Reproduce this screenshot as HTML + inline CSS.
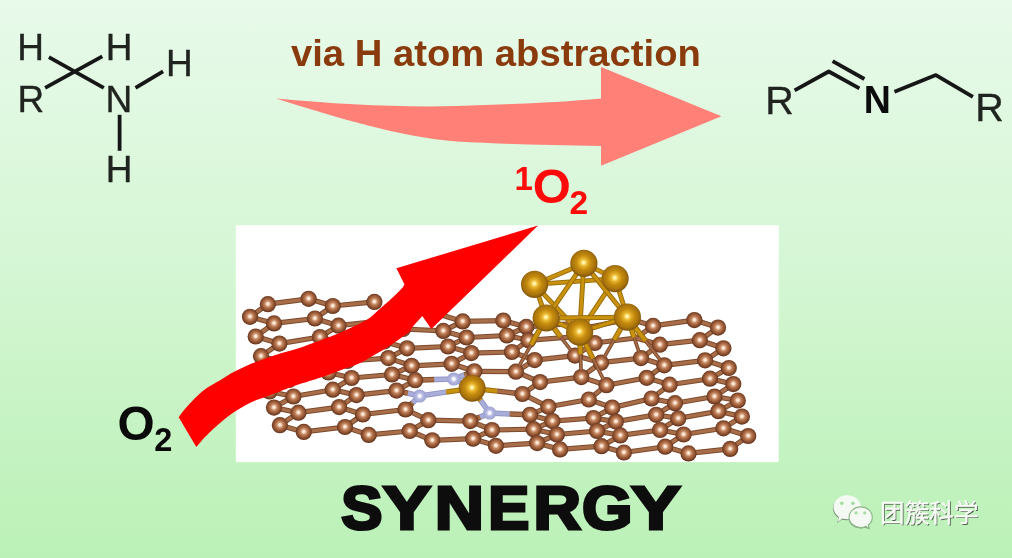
<!DOCTYPE html>
<html lang="en">
<head>
<meta charset="utf-8">
<title>Synergy graphical abstract</title>
<style>
html,body{margin:0;padding:0;}
body{width:1012px;height:558px;overflow:hidden;background:#bcf2b8;font-family:"Liberation Sans",sans-serif;}
#stage{position:relative;width:1012px;height:558px;overflow:hidden;background:linear-gradient(to bottom,#e8faea 0%,#d5f6d4 48%,#c5f3c2 78%,#bbf1b7 100%);}
#art{position:absolute;left:0;top:0;width:1012px;height:558px;}
.lbl{position:absolute;white-space:nowrap;line-height:1;margin:0;filter:blur(0.4px);}
.chem{font-size:37px;color:#20241f;-webkit-text-stroke:0.35px #20241f;}
.c2{font-size:39.5px;}
.hid{color:transparent;}
.rd{color:#ff0a0a;font-weight:bold;}
.bk{color:#0a0a0a;font-weight:bold;}
</style>
</head>
<body>
<div id="stage">
<svg id="art" width="1012" height="558" viewBox="0 0 1012 558">
<defs>
<radialGradient id="gC" cx="0.5" cy="0.48" r="0.52">
<stop offset="0" stop-color="#fffaf2"/><stop offset="0.16" stop-color="#f6dcc6"/><stop offset="0.36" stop-color="#c78a65"/><stop offset="0.6" stop-color="#a3633d"/><stop offset="0.82" stop-color="#82482b"/><stop offset="0.94" stop-color="#66361e"/><stop offset="1" stop-color="#5c301b"/>
</radialGradient>
<radialGradient id="gAu" cx="0.49" cy="0.47" r="0.54">
<stop offset="0" stop-color="#fffde6"/><stop offset="0.1" stop-color="#ffea8c"/><stop offset="0.25" stop-color="#e8b52e"/><stop offset="0.5" stop-color="#c48a0e"/><stop offset="0.78" stop-color="#a8730c"/><stop offset="0.92" stop-color="#8a5b0c"/><stop offset="1" stop-color="#77500f"/>
</radialGradient>
<radialGradient id="gN" cx="0.5" cy="0.5" r="0.52">
<stop offset="0" stop-color="#ffffff"/><stop offset="0.22" stop-color="#f3f3fb"/><stop offset="0.45" stop-color="#b6b9e0"/><stop offset="0.8" stop-color="#a5a9d6"/><stop offset="1" stop-color="#989cce"/>
</radialGradient>
<filter id="soft" x="-5%" y="-5%" width="110%" height="110%"><feGaussianBlur stdDeviation="0.45"/></filter>
<filter id="soft3" x="-5%" y="-5%" width="110%" height="110%"><feGaussianBlur stdDeviation="0.7"/></filter>
<filter id="soft2" x="-5%" y="-5%" width="110%" height="110%"><feGaussianBlur stdDeviation="0.6"/></filter>
</defs>
<rect x="235.8" y="225.3" width="542.9" height="236.8" fill="#ffffff"/>
<g id="lattice" filter="url(#soft3)">
<g stroke-linecap="butt">
<path d="M267.9,304.2 L250.0,316.8" stroke="#7d4a2c" stroke-width="5.2"/><path d="M267.9,304.2 L250.0,316.8" stroke="#a86e49" stroke-width="3.2"/>
<path d="M267.9,304.2 L308.6,298.8" stroke="#7d4a2c" stroke-width="5.2"/><path d="M267.9,304.2 L308.6,298.8" stroke="#a86e49" stroke-width="3.2"/>
<path d="M250.0,316.8 L274.0,323.4" stroke="#7d4a2c" stroke-width="5.2"/><path d="M250.0,316.8 L274.0,323.4" stroke="#a86e49" stroke-width="3.2"/>
<path d="M274.0,323.4 L255.7,336.5" stroke="#7d4a2c" stroke-width="5.2"/><path d="M274.0,323.4 L255.7,336.5" stroke="#a86e49" stroke-width="3.2"/>
<path d="M274.0,323.4 L314.9,318.5" stroke="#7d4a2c" stroke-width="5.2"/><path d="M274.0,323.4 L314.9,318.5" stroke="#a86e49" stroke-width="3.2"/>
<path d="M255.7,336.5 L279.4,343.6" stroke="#7d4a2c" stroke-width="5.2"/><path d="M255.7,336.5 L279.4,343.6" stroke="#a86e49" stroke-width="3.2"/>
<path d="M279.4,343.6 L261.0,356.2" stroke="#7d4a2c" stroke-width="5.2"/><path d="M279.4,343.6 L261.0,356.2" stroke="#a86e49" stroke-width="3.2"/>
<path d="M279.4,343.6 L319.9,337.0" stroke="#7d4a2c" stroke-width="5.2"/><path d="M279.4,343.6 L319.9,337.0" stroke="#a86e49" stroke-width="3.2"/>
<path d="M261.0,356.2 L285.0,362.5" stroke="#7d4a2c" stroke-width="5.2"/><path d="M261.0,356.2 L285.0,362.5" stroke="#a86e49" stroke-width="3.2"/>
<path d="M285.0,362.5 L265.5,375.0" stroke="#7d4a2c" stroke-width="5.2"/><path d="M285.0,362.5 L265.5,375.0" stroke="#a86e49" stroke-width="3.2"/>
<path d="M285.0,362.5 L324.0,355.0" stroke="#7d4a2c" stroke-width="5.2"/><path d="M285.0,362.5 L324.0,355.0" stroke="#a86e49" stroke-width="3.2"/>
<path d="M265.5,375.0 L289.0,380.0" stroke="#7d4a2c" stroke-width="5.2"/><path d="M265.5,375.0 L289.0,380.0" stroke="#a86e49" stroke-width="3.2"/>
<path d="M289.0,380.0 L269.5,391.5" stroke="#7d4a2c" stroke-width="5.2"/><path d="M289.0,380.0 L269.5,391.5" stroke="#a86e49" stroke-width="3.2"/>
<path d="M289.0,380.0 L328.5,372.5" stroke="#7d4a2c" stroke-width="5.2"/><path d="M289.0,380.0 L328.5,372.5" stroke="#a86e49" stroke-width="3.2"/>
<path d="M269.5,391.5 L293.4,396.5" stroke="#7d4a2c" stroke-width="5.2"/><path d="M269.5,391.5 L293.4,396.5" stroke="#a86e49" stroke-width="3.2"/>
<path d="M293.4,396.5 L274.0,407.6" stroke="#7d4a2c" stroke-width="5.2"/><path d="M293.4,396.5 L274.0,407.6" stroke="#a86e49" stroke-width="3.2"/>
<path d="M293.4,396.5 L332.8,389.7" stroke="#7d4a2c" stroke-width="5.2"/><path d="M293.4,396.5 L332.8,389.7" stroke="#a86e49" stroke-width="3.2"/>
<path d="M274.0,407.6 L298.4,412.7" stroke="#7d4a2c" stroke-width="5.2"/><path d="M274.0,407.6 L298.4,412.7" stroke="#a86e49" stroke-width="3.2"/>
<path d="M298.4,412.7 L279.9,425.2" stroke="#7d4a2c" stroke-width="5.2"/><path d="M298.4,412.7 L279.9,425.2" stroke="#a86e49" stroke-width="3.2"/>
<path d="M298.4,412.7 L339.1,407.1" stroke="#7d4a2c" stroke-width="5.2"/><path d="M298.4,412.7 L339.1,407.1" stroke="#a86e49" stroke-width="3.2"/>
<path d="M279.9,425.2 L303.8,431.9" stroke="#7d4a2c" stroke-width="5.2"/><path d="M279.9,425.2 L303.8,431.9" stroke="#a86e49" stroke-width="3.2"/>
<path d="M303.8,431.9 L345.0,427.0" stroke="#7d4a2c" stroke-width="5.2"/><path d="M303.8,431.9 L345.0,427.0" stroke="#a86e49" stroke-width="3.2"/>
<path d="M308.6,298.8 L332.8,306.0" stroke="#7d4a2c" stroke-width="5.2"/><path d="M308.6,298.8 L332.8,306.0" stroke="#a86e49" stroke-width="3.2"/>
<path d="M332.8,306.0 L314.9,318.5" stroke="#7d4a2c" stroke-width="5.2"/><path d="M332.8,306.0 L314.9,318.5" stroke="#a86e49" stroke-width="3.2"/>
<path d="M332.8,306.0 L374.4,301.9" stroke="#7d4a2c" stroke-width="5.2"/><path d="M332.8,306.0 L374.4,301.9" stroke="#a86e49" stroke-width="3.2"/>
<path d="M314.9,318.5 L338.5,325.7" stroke="#7d4a2c" stroke-width="5.2"/><path d="M314.9,318.5 L338.5,325.7" stroke="#a86e49" stroke-width="3.2"/>
<path d="M338.5,325.7 L319.9,337.0" stroke="#7d4a2c" stroke-width="5.2"/><path d="M338.5,325.7 L319.9,337.0" stroke="#a86e49" stroke-width="3.2"/>
<path d="M338.5,325.7 L380.0,321.0" stroke="#7d4a2c" stroke-width="5.2"/><path d="M338.5,325.7 L380.0,321.0" stroke="#a86e49" stroke-width="3.2"/>
<path d="M319.9,337.0 L343.0,343.5" stroke="#7d4a2c" stroke-width="5.2"/><path d="M319.9,337.0 L343.0,343.5" stroke="#a86e49" stroke-width="3.2"/>
<path d="M343.0,343.5 L324.0,355.0" stroke="#7d4a2c" stroke-width="5.2"/><path d="M343.0,343.5 L324.0,355.0" stroke="#a86e49" stroke-width="3.2"/>
<path d="M343.0,343.5 L384.0,341.5" stroke="#7d4a2c" stroke-width="5.2"/><path d="M343.0,343.5 L384.0,341.5" stroke="#a86e49" stroke-width="3.2"/>
<path d="M324.0,355.0 L347.3,361.0" stroke="#7d4a2c" stroke-width="5.2"/><path d="M324.0,355.0 L347.3,361.0" stroke="#a86e49" stroke-width="3.2"/>
<path d="M347.3,361.0 L328.5,372.5" stroke="#7d4a2c" stroke-width="5.2"/><path d="M347.3,361.0 L328.5,372.5" stroke="#a86e49" stroke-width="3.2"/>
<path d="M347.3,361.0 L388.3,358.1" stroke="#7d4a2c" stroke-width="5.2"/><path d="M347.3,361.0 L388.3,358.1" stroke="#a86e49" stroke-width="3.2"/>
<path d="M328.5,372.5 L351.6,378.0" stroke="#7d4a2c" stroke-width="5.2"/><path d="M328.5,372.5 L351.6,378.0" stroke="#a86e49" stroke-width="3.2"/>
<path d="M351.6,378.0 L332.8,389.7" stroke="#7d4a2c" stroke-width="5.2"/><path d="M351.6,378.0 L332.8,389.7" stroke="#a86e49" stroke-width="3.2"/>
<path d="M351.6,378.0 L392.0,374.5" stroke="#7d4a2c" stroke-width="5.2"/><path d="M351.6,378.0 L392.0,374.5" stroke="#a86e49" stroke-width="3.2"/>
<path d="M332.8,389.7 L356.5,395.1" stroke="#7d4a2c" stroke-width="5.2"/><path d="M332.8,389.7 L356.5,395.1" stroke="#a86e49" stroke-width="3.2"/>
<path d="M356.5,395.1 L339.1,407.1" stroke="#7d4a2c" stroke-width="5.2"/><path d="M356.5,395.1 L339.1,407.1" stroke="#a86e49" stroke-width="3.2"/>
<path d="M356.5,395.1 L396.5,390.6" stroke="#7d4a2c" stroke-width="5.2"/><path d="M356.5,395.1 L396.5,390.6" stroke="#a86e49" stroke-width="3.2"/>
<path d="M339.1,407.1 L362.9,414.5" stroke="#7d4a2c" stroke-width="5.2"/><path d="M339.1,407.1 L362.9,414.5" stroke="#a86e49" stroke-width="3.2"/>
<path d="M362.9,414.5 L345.0,427.0" stroke="#7d4a2c" stroke-width="5.2"/><path d="M362.9,414.5 L345.0,427.0" stroke="#a86e49" stroke-width="3.2"/>
<path d="M362.9,414.5 L405.5,409.5" stroke="#7d4a2c" stroke-width="5.2"/><path d="M362.9,414.5 L405.5,409.5" stroke="#a86e49" stroke-width="3.2"/>
<path d="M345.0,427.0 L368.7,434.9" stroke="#7d4a2c" stroke-width="5.2"/><path d="M345.0,427.0 L368.7,434.9" stroke="#a86e49" stroke-width="3.2"/>
<path d="M368.7,434.9 L409.7,431.0" stroke="#7d4a2c" stroke-width="5.2"/><path d="M368.7,434.9 L409.7,431.0" stroke="#a86e49" stroke-width="3.2"/>
<path d="M380.0,321.0 L403.0,329.0" stroke="#7d4a2c" stroke-width="5.2"/><path d="M380.0,321.0 L403.0,329.0" stroke="#a86e49" stroke-width="3.2"/>
<path d="M403.0,329.0 L384.0,341.5" stroke="#7d4a2c" stroke-width="5.2"/><path d="M403.0,329.0 L384.0,341.5" stroke="#a86e49" stroke-width="3.2"/>
<path d="M403.0,329.0 L443.3,330.9" stroke="#7d4a2c" stroke-width="5.2"/><path d="M403.0,329.0 L443.3,330.9" stroke="#a86e49" stroke-width="3.2"/>
<path d="M384.0,341.5 L407.1,348.3" stroke="#7d4a2c" stroke-width="5.2"/><path d="M384.0,341.5 L407.1,348.3" stroke="#a86e49" stroke-width="3.2"/>
<path d="M407.1,348.3 L388.3,358.1" stroke="#7d4a2c" stroke-width="5.2"/><path d="M407.1,348.3 L388.3,358.1" stroke="#a86e49" stroke-width="3.2"/>
<path d="M407.1,348.3 L448.0,346.5" stroke="#7d4a2c" stroke-width="5.2"/><path d="M407.1,348.3 L448.0,346.5" stroke="#a86e49" stroke-width="3.2"/>
<path d="M388.3,358.1 L411.6,365.8" stroke="#7d4a2c" stroke-width="5.2"/><path d="M388.3,358.1 L411.6,365.8" stroke="#a86e49" stroke-width="3.2"/>
<path d="M411.6,365.8 L392.0,374.5" stroke="#7d4a2c" stroke-width="5.2"/><path d="M411.6,365.8 L392.0,374.5" stroke="#a86e49" stroke-width="3.2"/>
<path d="M411.6,365.8 L451.6,363.8" stroke="#7d4a2c" stroke-width="5.2"/><path d="M411.6,365.8 L451.6,363.8" stroke="#a86e49" stroke-width="3.2"/>
<path d="M392.0,374.5 L415.2,380.2" stroke="#7d4a2c" stroke-width="5.2"/><path d="M392.0,374.5 L415.2,380.2" stroke="#a86e49" stroke-width="3.2"/>
<path d="M415.2,380.2 L396.5,390.6" stroke="#7d4a2c" stroke-width="5.2"/><path d="M415.2,380.2 L396.5,390.6" stroke="#a86e49" stroke-width="3.2"/>
<path d="M415.2,380.2 L434.5,379.6" stroke="#7d4a2c" stroke-width="5.5"/><path d="M415.2,380.2 L434.5,379.6" stroke="#a86e49" stroke-width="3.5"/><path d="M434.5,379.6 L453.8,379.0" stroke="#9296c8" stroke-width="5.5"/><path d="M434.5,379.6 L453.8,379.0" stroke="#a9add8" stroke-width="3.5"/>
<path d="M396.5,390.6 L408.1,393.3" stroke="#7d4a2c" stroke-width="5.5"/><path d="M396.5,390.6 L408.1,393.3" stroke="#a86e49" stroke-width="3.5"/><path d="M408.1,393.3 L419.7,396.0" stroke="#9296c8" stroke-width="5.5"/><path d="M408.1,393.3 L419.7,396.0" stroke="#a9add8" stroke-width="3.5"/>
<path d="M419.7,396.0 L412.6,402.8" stroke="#9296c8" stroke-width="5.5"/><path d="M419.7,396.0 L412.6,402.8" stroke="#a9add8" stroke-width="3.5"/><path d="M412.6,402.8 L405.5,409.5" stroke="#7d4a2c" stroke-width="5.5"/><path d="M412.6,402.8 L405.5,409.5" stroke="#a86e49" stroke-width="3.5"/>
<path d="M405.5,409.5 L428.3,420.2" stroke="#7d4a2c" stroke-width="5.2"/><path d="M405.5,409.5 L428.3,420.2" stroke="#a86e49" stroke-width="3.2"/>
<path d="M428.3,420.2 L409.7,431.0" stroke="#7d4a2c" stroke-width="5.2"/><path d="M428.3,420.2 L409.7,431.0" stroke="#a86e49" stroke-width="3.2"/>
<path d="M428.3,420.2 L470.3,421.1" stroke="#7d4a2c" stroke-width="5.2"/><path d="M428.3,420.2 L470.3,421.1" stroke="#a86e49" stroke-width="3.2"/>
<path d="M409.7,431.0 L432.3,440.3" stroke="#7d4a2c" stroke-width="5.2"/><path d="M409.7,431.0 L432.3,440.3" stroke="#a86e49" stroke-width="3.2"/>
<path d="M432.3,440.3 L473.1,438.7" stroke="#7d4a2c" stroke-width="5.2"/><path d="M432.3,440.3 L473.1,438.7" stroke="#a86e49" stroke-width="3.2"/>
<path d="M439.5,314.5 L462.7,321.4" stroke="#7d4a2c" stroke-width="5.2"/><path d="M439.5,314.5 L462.7,321.4" stroke="#a86e49" stroke-width="3.2"/>
<path d="M462.7,321.4 L443.3,330.9" stroke="#7d4a2c" stroke-width="5.2"/><path d="M462.7,321.4 L443.3,330.9" stroke="#a86e49" stroke-width="3.2"/>
<path d="M462.7,321.4 L503.3,320.6" stroke="#7d4a2c" stroke-width="5.2"/><path d="M462.7,321.4 L503.3,320.6" stroke="#a86e49" stroke-width="3.2"/>
<path d="M443.3,330.9 L466.6,337.5" stroke="#7d4a2c" stroke-width="5.2"/><path d="M443.3,330.9 L466.6,337.5" stroke="#a86e49" stroke-width="3.2"/>
<path d="M466.6,337.5 L448.0,346.5" stroke="#7d4a2c" stroke-width="5.2"/><path d="M466.6,337.5 L448.0,346.5" stroke="#a86e49" stroke-width="3.2"/>
<path d="M466.6,337.5 L506.9,335.5" stroke="#7d4a2c" stroke-width="5.2"/><path d="M466.6,337.5 L506.9,335.5" stroke="#a86e49" stroke-width="3.2"/>
<path d="M448.0,346.5 L471.3,353.1" stroke="#7d4a2c" stroke-width="5.2"/><path d="M448.0,346.5 L471.3,353.1" stroke="#a86e49" stroke-width="3.2"/>
<path d="M471.3,353.1 L451.6,363.8" stroke="#7d4a2c" stroke-width="5.2"/><path d="M471.3,353.1 L451.6,363.8" stroke="#a86e49" stroke-width="3.2"/>
<path d="M471.3,353.1 L511.9,352.0" stroke="#7d4a2c" stroke-width="5.2"/><path d="M471.3,353.1 L511.9,352.0" stroke="#a86e49" stroke-width="3.2"/>
<path d="M451.6,363.8 L474.4,371.3" stroke="#7d4a2c" stroke-width="5.2"/><path d="M451.6,363.8 L474.4,371.3" stroke="#a86e49" stroke-width="3.2"/>
<path d="M474.4,371.3 L464.1,375.1" stroke="#7d4a2c" stroke-width="5.5"/><path d="M474.4,371.3 L464.1,375.1" stroke="#a86e49" stroke-width="3.5"/><path d="M464.1,375.1 L453.8,379.0" stroke="#9296c8" stroke-width="5.5"/><path d="M464.1,375.1 L453.8,379.0" stroke="#a9add8" stroke-width="3.5"/>
<path d="M474.4,371.3 L515.9,371.7" stroke="#7d4a2c" stroke-width="5.2"/><path d="M474.4,371.3 L515.9,371.7" stroke="#a86e49" stroke-width="3.2"/>
<path d="M489.6,413.0 L480.0,417.1" stroke="#9296c8" stroke-width="5.5"/><path d="M489.6,413.0 L480.0,417.1" stroke="#a9add8" stroke-width="3.5"/><path d="M480.0,417.1 L470.3,421.1" stroke="#7d4a2c" stroke-width="5.5"/><path d="M480.0,417.1 L470.3,421.1" stroke="#a86e49" stroke-width="3.5"/>
<path d="M489.6,413.0 L509.8,413.9" stroke="#9296c8" stroke-width="5.5"/><path d="M489.6,413.0 L509.8,413.9" stroke="#a9add8" stroke-width="3.5"/><path d="M509.8,413.9 L530.0,414.8" stroke="#7d4a2c" stroke-width="5.5"/><path d="M509.8,413.9 L530.0,414.8" stroke="#a86e49" stroke-width="3.5"/>
<path d="M470.3,421.1 L492.0,430.0" stroke="#7d4a2c" stroke-width="5.2"/><path d="M470.3,421.1 L492.0,430.0" stroke="#a86e49" stroke-width="3.2"/>
<path d="M492.0,430.0 L473.1,438.7" stroke="#7d4a2c" stroke-width="5.2"/><path d="M492.0,430.0 L473.1,438.7" stroke="#a86e49" stroke-width="3.2"/>
<path d="M492.0,430.0 L533.6,429.2" stroke="#7d4a2c" stroke-width="5.2"/><path d="M492.0,430.0 L533.6,429.2" stroke="#a86e49" stroke-width="3.2"/>
<path d="M473.1,438.7 L495.9,445.8" stroke="#7d4a2c" stroke-width="5.2"/><path d="M473.1,438.7 L495.9,445.8" stroke="#a86e49" stroke-width="3.2"/>
<path d="M495.9,445.8 L537.1,443.1" stroke="#7d4a2c" stroke-width="5.2"/><path d="M495.9,445.8 L537.1,443.1" stroke="#a86e49" stroke-width="3.2"/>
<path d="M503.3,320.6 L526.3,326.9" stroke="#7d4a2c" stroke-width="5.2"/><path d="M503.3,320.6 L526.3,326.9" stroke="#a86e49" stroke-width="3.2"/>
<path d="M526.3,326.9 L506.9,335.5" stroke="#7d4a2c" stroke-width="5.2"/><path d="M526.3,326.9 L506.9,335.5" stroke="#a86e49" stroke-width="3.2"/>
<path d="M526.3,326.9 L567.0,324.0" stroke="#7d4a2c" stroke-width="5.2"/><path d="M526.3,326.9 L567.0,324.0" stroke="#a86e49" stroke-width="3.2"/>
<path d="M506.9,335.5 L528.4,340.3" stroke="#7d4a2c" stroke-width="5.2"/><path d="M506.9,335.5 L528.4,340.3" stroke="#a86e49" stroke-width="3.2"/>
<path d="M528.4,340.3 L511.9,352.0" stroke="#7d4a2c" stroke-width="5.2"/><path d="M528.4,340.3 L511.9,352.0" stroke="#a86e49" stroke-width="3.2"/>
<path d="M528.4,340.3 L571.0,337.0" stroke="#7d4a2c" stroke-width="5.2"/><path d="M528.4,340.3 L571.0,337.0" stroke="#a86e49" stroke-width="3.2"/>
<path d="M511.9,352.0 L534.7,360.1" stroke="#7d4a2c" stroke-width="5.2"/><path d="M511.9,352.0 L534.7,360.1" stroke="#a86e49" stroke-width="3.2"/>
<path d="M534.7,360.1 L515.9,371.7" stroke="#7d4a2c" stroke-width="5.2"/><path d="M534.7,360.1 L515.9,371.7" stroke="#a86e49" stroke-width="3.2"/>
<path d="M534.7,360.1 L575.0,355.6" stroke="#7d4a2c" stroke-width="5.2"/><path d="M534.7,360.1 L575.0,355.6" stroke="#a86e49" stroke-width="3.2"/>
<path d="M515.9,371.7 L540.1,382.1" stroke="#7d4a2c" stroke-width="5.2"/><path d="M515.9,371.7 L540.1,382.1" stroke="#a86e49" stroke-width="3.2"/>
<path d="M540.1,382.1 L522.4,394.0" stroke="#7d4a2c" stroke-width="5.2"/><path d="M540.1,382.1 L522.4,394.0" stroke="#a86e49" stroke-width="3.2"/>
<path d="M540.1,382.1 L581.3,377.1" stroke="#7d4a2c" stroke-width="5.2"/><path d="M540.1,382.1 L581.3,377.1" stroke="#a86e49" stroke-width="3.2"/>
<path d="M522.4,394.0 L548.4,406.8" stroke="#7d4a2c" stroke-width="5.2"/><path d="M522.4,394.0 L548.4,406.8" stroke="#a86e49" stroke-width="3.2"/>
<path d="M548.4,406.8 L530.0,414.8" stroke="#7d4a2c" stroke-width="5.2"/><path d="M548.4,406.8 L530.0,414.8" stroke="#a86e49" stroke-width="3.2"/>
<path d="M548.4,406.8 L588.8,399.5" stroke="#7d4a2c" stroke-width="5.2"/><path d="M548.4,406.8 L588.8,399.5" stroke="#a86e49" stroke-width="3.2"/>
<path d="M530.0,414.8 L552.4,421.1" stroke="#7d4a2c" stroke-width="5.2"/><path d="M530.0,414.8 L552.4,421.1" stroke="#a86e49" stroke-width="3.2"/>
<path d="M552.4,421.1 L533.6,429.2" stroke="#7d4a2c" stroke-width="5.2"/><path d="M552.4,421.1 L533.6,429.2" stroke="#a86e49" stroke-width="3.2"/>
<path d="M552.4,421.1 L593.4,418.0" stroke="#7d4a2c" stroke-width="5.2"/><path d="M552.4,421.1 L593.4,418.0" stroke="#a86e49" stroke-width="3.2"/>
<path d="M533.6,429.2 L556.9,434.5" stroke="#7d4a2c" stroke-width="5.2"/><path d="M533.6,429.2 L556.9,434.5" stroke="#a86e49" stroke-width="3.2"/>
<path d="M556.9,434.5 L537.1,443.1" stroke="#7d4a2c" stroke-width="5.2"/><path d="M556.9,434.5 L537.1,443.1" stroke="#a86e49" stroke-width="3.2"/>
<path d="M556.9,434.5 L597.0,431.0" stroke="#7d4a2c" stroke-width="5.2"/><path d="M556.9,434.5 L597.0,431.0" stroke="#a86e49" stroke-width="3.2"/>
<path d="M537.1,443.1 L560.1,449.4" stroke="#7d4a2c" stroke-width="5.2"/><path d="M537.1,443.1 L560.1,449.4" stroke="#a86e49" stroke-width="3.2"/>
<path d="M560.1,449.4 L601.5,446.2" stroke="#7d4a2c" stroke-width="5.2"/><path d="M560.1,449.4 L601.5,446.2" stroke="#a86e49" stroke-width="3.2"/>
<path d="M567.0,324.0 L590.0,327.0" stroke="#7d4a2c" stroke-width="5.2"/><path d="M567.0,324.0 L590.0,327.0" stroke="#a86e49" stroke-width="3.2"/>
<path d="M590.0,327.0 L571.0,337.0" stroke="#7d4a2c" stroke-width="5.2"/><path d="M590.0,327.0 L571.0,337.0" stroke="#a86e49" stroke-width="3.2"/>
<path d="M590.0,327.0 L630.0,319.0" stroke="#7d4a2c" stroke-width="5.2"/><path d="M590.0,327.0 L630.0,319.0" stroke="#a86e49" stroke-width="3.2"/>
<path d="M571.0,337.0 L594.7,343.0" stroke="#7d4a2c" stroke-width="5.2"/><path d="M571.0,337.0 L594.7,343.0" stroke="#a86e49" stroke-width="3.2"/>
<path d="M594.7,343.0 L575.0,355.6" stroke="#7d4a2c" stroke-width="5.2"/><path d="M594.7,343.0 L575.0,355.6" stroke="#a86e49" stroke-width="3.2"/>
<path d="M594.7,343.0 L636.0,338.0" stroke="#7d4a2c" stroke-width="5.2"/><path d="M594.7,343.0 L636.0,338.0" stroke="#a86e49" stroke-width="3.2"/>
<path d="M575.0,355.6 L601.0,362.7" stroke="#7d4a2c" stroke-width="5.2"/><path d="M575.0,355.6 L601.0,362.7" stroke="#a86e49" stroke-width="3.2"/>
<path d="M601.0,362.7 L581.3,377.1" stroke="#7d4a2c" stroke-width="5.2"/><path d="M601.0,362.7 L581.3,377.1" stroke="#a86e49" stroke-width="3.2"/>
<path d="M601.0,362.7 L641.0,358.1" stroke="#7d4a2c" stroke-width="5.2"/><path d="M601.0,362.7 L641.0,358.1" stroke="#a86e49" stroke-width="3.2"/>
<path d="M581.3,377.1 L606.4,385.2" stroke="#7d4a2c" stroke-width="5.2"/><path d="M581.3,377.1 L606.4,385.2" stroke="#a86e49" stroke-width="3.2"/>
<path d="M606.4,385.2 L588.8,399.5" stroke="#7d4a2c" stroke-width="5.2"/><path d="M606.4,385.2 L588.8,399.5" stroke="#a86e49" stroke-width="3.2"/>
<path d="M606.4,385.2 L646.7,377.8" stroke="#7d4a2c" stroke-width="5.2"/><path d="M606.4,385.2 L646.7,377.8" stroke="#a86e49" stroke-width="3.2"/>
<path d="M588.8,399.5 L612.3,407.6" stroke="#7d4a2c" stroke-width="5.2"/><path d="M588.8,399.5 L612.3,407.6" stroke="#a86e49" stroke-width="3.2"/>
<path d="M612.3,407.6 L593.4,418.0" stroke="#7d4a2c" stroke-width="5.2"/><path d="M612.3,407.6 L593.4,418.0" stroke="#a86e49" stroke-width="3.2"/>
<path d="M612.3,407.6 L651.5,398.5" stroke="#7d4a2c" stroke-width="5.2"/><path d="M612.3,407.6 L651.5,398.5" stroke="#a86e49" stroke-width="3.2"/>
<path d="M593.4,418.0 L615.9,421.6" stroke="#7d4a2c" stroke-width="5.2"/><path d="M593.4,418.0 L615.9,421.6" stroke="#a86e49" stroke-width="3.2"/>
<path d="M615.9,421.6 L597.0,431.0" stroke="#7d4a2c" stroke-width="5.2"/><path d="M615.9,421.6 L597.0,431.0" stroke="#a86e49" stroke-width="3.2"/>
<path d="M615.9,421.6 L656.2,414.8" stroke="#7d4a2c" stroke-width="5.2"/><path d="M615.9,421.6 L656.2,414.8" stroke="#a86e49" stroke-width="3.2"/>
<path d="M597.0,431.0 L620.3,435.4" stroke="#7d4a2c" stroke-width="5.2"/><path d="M597.0,431.0 L620.3,435.4" stroke="#a86e49" stroke-width="3.2"/>
<path d="M620.3,435.4 L601.5,446.2" stroke="#7d4a2c" stroke-width="5.2"/><path d="M620.3,435.4 L601.5,446.2" stroke="#a86e49" stroke-width="3.2"/>
<path d="M620.3,435.4 L660.1,430.0" stroke="#7d4a2c" stroke-width="5.2"/><path d="M620.3,435.4 L660.1,430.0" stroke="#a86e49" stroke-width="3.2"/>
<path d="M601.5,446.2 L623.9,452.5" stroke="#7d4a2c" stroke-width="5.2"/><path d="M601.5,446.2 L623.9,452.5" stroke="#a86e49" stroke-width="3.2"/>
<path d="M623.9,452.5 L665.2,446.7" stroke="#7d4a2c" stroke-width="5.2"/><path d="M623.9,452.5 L665.2,446.7" stroke="#a86e49" stroke-width="3.2"/>
<path d="M630.0,319.0 L653.1,325.9" stroke="#7d4a2c" stroke-width="5.2"/><path d="M630.0,319.0 L653.1,325.9" stroke="#a86e49" stroke-width="3.2"/>
<path d="M653.1,325.9 L636.0,338.0" stroke="#7d4a2c" stroke-width="5.2"/><path d="M653.1,325.9 L636.0,338.0" stroke="#a86e49" stroke-width="3.2"/>
<path d="M653.1,325.9 L694.4,320.1" stroke="#7d4a2c" stroke-width="5.2"/><path d="M653.1,325.9 L694.4,320.1" stroke="#a86e49" stroke-width="3.2"/>
<path d="M636.0,338.0 L659.8,344.7" stroke="#7d4a2c" stroke-width="5.2"/><path d="M636.0,338.0 L659.8,344.7" stroke="#a86e49" stroke-width="3.2"/>
<path d="M659.8,344.7 L641.0,358.1" stroke="#7d4a2c" stroke-width="5.2"/><path d="M659.8,344.7 L641.0,358.1" stroke="#a86e49" stroke-width="3.2"/>
<path d="M659.8,344.7 L699.8,340.2" stroke="#7d4a2c" stroke-width="5.2"/><path d="M659.8,344.7 L699.8,340.2" stroke="#a86e49" stroke-width="3.2"/>
<path d="M641.0,358.1 L664.3,365.3" stroke="#7d4a2c" stroke-width="5.2"/><path d="M641.0,358.1 L664.3,365.3" stroke="#a86e49" stroke-width="3.2"/>
<path d="M664.3,365.3 L646.7,377.8" stroke="#7d4a2c" stroke-width="5.2"/><path d="M664.3,365.3 L646.7,377.8" stroke="#a86e49" stroke-width="3.2"/>
<path d="M664.3,365.3 L705.1,360.3" stroke="#7d4a2c" stroke-width="5.2"/><path d="M664.3,365.3 L705.1,360.3" stroke="#a86e49" stroke-width="3.2"/>
<path d="M646.7,377.8 L669.6,384.7" stroke="#7d4a2c" stroke-width="5.2"/><path d="M646.7,377.8 L669.6,384.7" stroke="#a86e49" stroke-width="3.2"/>
<path d="M669.6,384.7 L651.5,398.5" stroke="#7d4a2c" stroke-width="5.2"/><path d="M669.6,384.7 L651.5,398.5" stroke="#a86e49" stroke-width="3.2"/>
<path d="M669.6,384.7 L710.0,378.7" stroke="#7d4a2c" stroke-width="5.2"/><path d="M669.6,384.7 L710.0,378.7" stroke="#a86e49" stroke-width="3.2"/>
<path d="M651.5,398.5 L675.0,403.2" stroke="#7d4a2c" stroke-width="5.2"/><path d="M651.5,398.5 L675.0,403.2" stroke="#a86e49" stroke-width="3.2"/>
<path d="M675.0,403.2 L656.2,414.8" stroke="#7d4a2c" stroke-width="5.2"/><path d="M675.0,403.2 L656.2,414.8" stroke="#a86e49" stroke-width="3.2"/>
<path d="M675.0,403.2 L714.5,396.5" stroke="#7d4a2c" stroke-width="5.2"/><path d="M675.0,403.2 L714.5,396.5" stroke="#a86e49" stroke-width="3.2"/>
<path d="M656.2,414.8 L678.2,418.4" stroke="#7d4a2c" stroke-width="5.2"/><path d="M656.2,414.8 L678.2,418.4" stroke="#a86e49" stroke-width="3.2"/>
<path d="M678.2,418.4 L660.1,430.0" stroke="#7d4a2c" stroke-width="5.2"/><path d="M678.2,418.4 L660.1,430.0" stroke="#a86e49" stroke-width="3.2"/>
<path d="M678.2,418.4 L718.4,411.2" stroke="#7d4a2c" stroke-width="5.2"/><path d="M678.2,418.4 L718.4,411.2" stroke="#a86e49" stroke-width="3.2"/>
<path d="M660.1,430.0 L683.6,434.5" stroke="#7d4a2c" stroke-width="5.2"/><path d="M660.1,430.0 L683.6,434.5" stroke="#a86e49" stroke-width="3.2"/>
<path d="M683.6,434.5 L665.2,446.7" stroke="#7d4a2c" stroke-width="5.2"/><path d="M683.6,434.5 L665.2,446.7" stroke="#a86e49" stroke-width="3.2"/>
<path d="M683.6,434.5 L723.4,428.3" stroke="#7d4a2c" stroke-width="5.2"/><path d="M683.6,434.5 L723.4,428.3" stroke="#a86e49" stroke-width="3.2"/>
<path d="M665.2,446.7 L688.5,453.4" stroke="#7d4a2c" stroke-width="5.2"/><path d="M665.2,446.7 L688.5,453.4" stroke="#a86e49" stroke-width="3.2"/>
<path d="M688.5,453.4 L730.2,448.9" stroke="#7d4a2c" stroke-width="5.2"/><path d="M688.5,453.4 L730.2,448.9" stroke="#a86e49" stroke-width="3.2"/>
<path d="M694.4,320.1 L718.0,327.6" stroke="#7d4a2c" stroke-width="5.2"/><path d="M694.4,320.1 L718.0,327.6" stroke="#a86e49" stroke-width="3.2"/>
<path d="M718.0,327.6 L699.8,340.2" stroke="#7d4a2c" stroke-width="5.2"/><path d="M718.0,327.6 L699.8,340.2" stroke="#a86e49" stroke-width="3.2"/>
<path d="M699.8,340.2 L723.4,348.3" stroke="#7d4a2c" stroke-width="5.2"/><path d="M699.8,340.2 L723.4,348.3" stroke="#a86e49" stroke-width="3.2"/>
<path d="M723.4,348.3 L705.1,360.3" stroke="#7d4a2c" stroke-width="5.2"/><path d="M723.4,348.3 L705.1,360.3" stroke="#a86e49" stroke-width="3.2"/>
<path d="M705.1,360.3 L728.8,368.0" stroke="#7d4a2c" stroke-width="5.2"/><path d="M705.1,360.3 L728.8,368.0" stroke="#a86e49" stroke-width="3.2"/>
<path d="M728.8,368.0 L710.0,378.7" stroke="#7d4a2c" stroke-width="5.2"/><path d="M728.8,368.0 L710.0,378.7" stroke="#a86e49" stroke-width="3.2"/>
<path d="M710.0,378.7 L733.3,384.1" stroke="#7d4a2c" stroke-width="5.2"/><path d="M710.0,378.7 L733.3,384.1" stroke="#a86e49" stroke-width="3.2"/>
<path d="M733.3,384.1 L714.5,396.5" stroke="#7d4a2c" stroke-width="5.2"/><path d="M733.3,384.1 L714.5,396.5" stroke="#a86e49" stroke-width="3.2"/>
<path d="M714.5,396.5 L737.8,400.5" stroke="#7d4a2c" stroke-width="5.2"/><path d="M714.5,396.5 L737.8,400.5" stroke="#a86e49" stroke-width="3.2"/>
<path d="M737.8,400.5 L718.4,411.2" stroke="#7d4a2c" stroke-width="5.2"/><path d="M737.8,400.5 L718.4,411.2" stroke="#a86e49" stroke-width="3.2"/>
<path d="M718.4,411.2 L741.9,416.6" stroke="#7d4a2c" stroke-width="5.2"/><path d="M718.4,411.2 L741.9,416.6" stroke="#a86e49" stroke-width="3.2"/>
<path d="M741.9,416.6 L723.4,428.3" stroke="#7d4a2c" stroke-width="5.2"/><path d="M741.9,416.6 L723.4,428.3" stroke="#a86e49" stroke-width="3.2"/>
<path d="M723.4,428.3 L748.2,436.0" stroke="#7d4a2c" stroke-width="5.2"/><path d="M723.4,428.3 L748.2,436.0" stroke="#a86e49" stroke-width="3.2"/>
<path d="M748.2,436.0 L730.2,448.9" stroke="#7d4a2c" stroke-width="5.2"/><path d="M748.2,436.0 L730.2,448.9" stroke="#a86e49" stroke-width="3.2"/>
<path d="M472.2,388.3 L463.0,383.6" stroke="#9c6e0c" stroke-width="5.5"/><path d="M472.2,388.3 L463.0,383.6" stroke="#c9920f" stroke-width="3.5"/><path d="M463.0,383.6 L453.8,379.0" stroke="#9296c8" stroke-width="5.5"/><path d="M463.0,383.6 L453.8,379.0" stroke="#a9add8" stroke-width="3.5"/>
<path d="M472.2,388.3 L445.9,392.1" stroke="#9c6e0c" stroke-width="5.5"/><path d="M472.2,388.3 L445.9,392.1" stroke="#c9920f" stroke-width="3.5"/><path d="M445.9,392.1 L419.7,396.0" stroke="#9296c8" stroke-width="5.5"/><path d="M445.9,392.1 L419.7,396.0" stroke="#a9add8" stroke-width="3.5"/>
<path d="M472.2,388.3 L480.9,400.6" stroke="#9c6e0c" stroke-width="5.5"/><path d="M472.2,388.3 L480.9,400.6" stroke="#c9920f" stroke-width="3.5"/><path d="M480.9,400.6 L489.6,413.0" stroke="#9296c8" stroke-width="5.5"/><path d="M480.9,400.6 L489.6,413.0" stroke="#a9add8" stroke-width="3.5"/>
<path d="M472.2,388.3 L497.3,391.1" stroke="#9c6e0c" stroke-width="5.3"/><path d="M472.2,388.3 L497.3,391.1" stroke="#c9920f" stroke-width="3.3"/><path d="M497.3,391.1 L522.4,394.0" stroke="#7d4a2c" stroke-width="5.3"/><path d="M497.3,391.1 L522.4,394.0" stroke="#a86e49" stroke-width="3.3"/>
</g>
<circle cx="308.6" cy="298.8" r="8.1" fill="url(#gC)"/>
<circle cx="374.4" cy="301.9" r="8.1" fill="url(#gC)"/>
<circle cx="267.9" cy="304.2" r="8.1" fill="url(#gC)"/>
<circle cx="332.8" cy="306.0" r="8.1" fill="url(#gC)"/>
<circle cx="250.0" cy="316.8" r="8.1" fill="url(#gC)"/>
<circle cx="314.9" cy="318.5" r="8.1" fill="url(#gC)"/>
<circle cx="694.4" cy="320.1" r="8.1" fill="url(#gC)"/>
<circle cx="503.3" cy="320.6" r="8.1" fill="url(#gC)"/>
<circle cx="380.0" cy="321.0" r="8.1" fill="url(#gC)"/>
<circle cx="462.7" cy="321.4" r="8.1" fill="url(#gC)"/>
<circle cx="274.0" cy="323.4" r="8.1" fill="url(#gC)"/>
<circle cx="338.5" cy="325.7" r="8.1" fill="url(#gC)"/>
<circle cx="653.1" cy="325.9" r="8.1" fill="url(#gC)"/>
<circle cx="526.3" cy="326.9" r="8.1" fill="url(#gC)"/>
<circle cx="718.0" cy="327.6" r="8.1" fill="url(#gC)"/>
<circle cx="403.0" cy="329.0" r="8.1" fill="url(#gC)"/>
<circle cx="443.3" cy="330.9" r="8.1" fill="url(#gC)"/>
<circle cx="506.9" cy="335.5" r="8.1" fill="url(#gC)"/>
<circle cx="255.7" cy="336.5" r="8.1" fill="url(#gC)"/>
<circle cx="319.9" cy="337.0" r="8.1" fill="url(#gC)"/>
<circle cx="466.6" cy="337.5" r="8.1" fill="url(#gC)"/>
<circle cx="699.8" cy="340.2" r="8.1" fill="url(#gC)"/>
<circle cx="528.4" cy="340.3" r="8.1" fill="url(#gC)"/>
<circle cx="384.0" cy="341.5" r="8.1" fill="url(#gC)"/>
<circle cx="594.7" cy="343.0" r="8.1" fill="url(#gC)"/>
<circle cx="343.0" cy="343.5" r="8.1" fill="url(#gC)"/>
<circle cx="279.4" cy="343.6" r="8.1" fill="url(#gC)"/>
<circle cx="659.8" cy="344.7" r="8.1" fill="url(#gC)"/>
<circle cx="448.0" cy="346.5" r="8.1" fill="url(#gC)"/>
<circle cx="407.1" cy="348.3" r="8.1" fill="url(#gC)"/>
<circle cx="723.4" cy="348.3" r="8.1" fill="url(#gC)"/>
<circle cx="511.9" cy="352.0" r="8.1" fill="url(#gC)"/>
<circle cx="471.3" cy="353.1" r="8.1" fill="url(#gC)"/>
<circle cx="324.0" cy="355.0" r="8.1" fill="url(#gC)"/>
<circle cx="575.0" cy="355.6" r="8.1" fill="url(#gC)"/>
<circle cx="261.0" cy="356.2" r="8.1" fill="url(#gC)"/>
<circle cx="388.3" cy="358.1" r="8.1" fill="url(#gC)"/>
<circle cx="641.0" cy="358.1" r="8.1" fill="url(#gC)"/>
<circle cx="534.7" cy="360.1" r="8.1" fill="url(#gC)"/>
<circle cx="705.1" cy="360.3" r="8.1" fill="url(#gC)"/>
<circle cx="347.3" cy="361.0" r="8.1" fill="url(#gC)"/>
<circle cx="285.0" cy="362.5" r="8.1" fill="url(#gC)"/>
<circle cx="601.0" cy="362.7" r="8.1" fill="url(#gC)"/>
<circle cx="451.6" cy="363.8" r="8.1" fill="url(#gC)"/>
<circle cx="664.3" cy="365.3" r="8.1" fill="url(#gC)"/>
<circle cx="411.6" cy="365.8" r="8.1" fill="url(#gC)"/>
<circle cx="728.8" cy="368.0" r="8.1" fill="url(#gC)"/>
<circle cx="474.4" cy="371.3" r="8.1" fill="url(#gC)"/>
<circle cx="515.9" cy="371.7" r="8.1" fill="url(#gC)"/>
<circle cx="328.5" cy="372.5" r="8.1" fill="url(#gC)"/>
<circle cx="392.0" cy="374.5" r="8.1" fill="url(#gC)"/>
<circle cx="265.5" cy="375.0" r="8.1" fill="url(#gC)"/>
<circle cx="581.3" cy="377.1" r="8.1" fill="url(#gC)"/>
<circle cx="646.7" cy="377.8" r="8.1" fill="url(#gC)"/>
<circle cx="351.6" cy="378.0" r="8.1" fill="url(#gC)"/>
<circle cx="710.0" cy="378.7" r="8.1" fill="url(#gC)"/>
<circle cx="453.8" cy="379.0" r="6.6" fill="url(#gN)"/>
<circle cx="289.0" cy="380.0" r="8.1" fill="url(#gC)"/>
<circle cx="415.2" cy="380.2" r="8.1" fill="url(#gC)"/>
<circle cx="540.1" cy="382.1" r="8.1" fill="url(#gC)"/>
<circle cx="733.3" cy="384.1" r="8.1" fill="url(#gC)"/>
<circle cx="669.6" cy="384.7" r="8.1" fill="url(#gC)"/>
<circle cx="606.4" cy="385.2" r="8.1" fill="url(#gC)"/>
<circle cx="332.8" cy="389.7" r="8.1" fill="url(#gC)"/>
<circle cx="396.5" cy="390.6" r="8.1" fill="url(#gC)"/>
<circle cx="269.5" cy="391.5" r="8.1" fill="url(#gC)"/>
<circle cx="522.4" cy="394.0" r="8.1" fill="url(#gC)"/>
<circle cx="356.5" cy="395.1" r="8.1" fill="url(#gC)"/>
<circle cx="419.7" cy="396.0" r="6.6" fill="url(#gN)"/>
<circle cx="293.4" cy="396.5" r="8.1" fill="url(#gC)"/>
<circle cx="714.5" cy="396.5" r="8.1" fill="url(#gC)"/>
<circle cx="651.5" cy="398.5" r="8.1" fill="url(#gC)"/>
<circle cx="588.8" cy="399.5" r="8.1" fill="url(#gC)"/>
<circle cx="737.8" cy="400.5" r="8.1" fill="url(#gC)"/>
<circle cx="675.0" cy="403.2" r="8.1" fill="url(#gC)"/>
<circle cx="548.4" cy="406.8" r="8.1" fill="url(#gC)"/>
<circle cx="339.1" cy="407.1" r="8.1" fill="url(#gC)"/>
<circle cx="274.0" cy="407.6" r="8.1" fill="url(#gC)"/>
<circle cx="612.3" cy="407.6" r="8.1" fill="url(#gC)"/>
<circle cx="405.5" cy="409.5" r="8.1" fill="url(#gC)"/>
<circle cx="718.4" cy="411.2" r="8.1" fill="url(#gC)"/>
<circle cx="298.4" cy="412.7" r="8.1" fill="url(#gC)"/>
<circle cx="489.6" cy="413.0" r="6.6" fill="url(#gN)"/>
<circle cx="362.9" cy="414.5" r="8.1" fill="url(#gC)"/>
<circle cx="530.0" cy="414.8" r="8.1" fill="url(#gC)"/>
<circle cx="656.2" cy="414.8" r="8.1" fill="url(#gC)"/>
<circle cx="741.9" cy="416.6" r="8.1" fill="url(#gC)"/>
<circle cx="593.4" cy="418.0" r="8.1" fill="url(#gC)"/>
<circle cx="678.2" cy="418.4" r="8.1" fill="url(#gC)"/>
<circle cx="428.3" cy="420.2" r="8.1" fill="url(#gC)"/>
<circle cx="470.3" cy="421.1" r="8.1" fill="url(#gC)"/>
<circle cx="552.4" cy="421.1" r="8.1" fill="url(#gC)"/>
<circle cx="615.9" cy="421.6" r="8.1" fill="url(#gC)"/>
<circle cx="279.9" cy="425.2" r="8.1" fill="url(#gC)"/>
<circle cx="345.0" cy="427.0" r="8.1" fill="url(#gC)"/>
<circle cx="723.4" cy="428.3" r="8.1" fill="url(#gC)"/>
<circle cx="533.6" cy="429.2" r="8.1" fill="url(#gC)"/>
<circle cx="492.0" cy="430.0" r="8.1" fill="url(#gC)"/>
<circle cx="660.1" cy="430.0" r="8.1" fill="url(#gC)"/>
<circle cx="409.7" cy="431.0" r="8.1" fill="url(#gC)"/>
<circle cx="597.0" cy="431.0" r="8.1" fill="url(#gC)"/>
<circle cx="303.8" cy="431.9" r="8.1" fill="url(#gC)"/>
<circle cx="556.9" cy="434.5" r="8.1" fill="url(#gC)"/>
<circle cx="683.6" cy="434.5" r="8.1" fill="url(#gC)"/>
<circle cx="368.7" cy="434.9" r="8.1" fill="url(#gC)"/>
<circle cx="620.3" cy="435.4" r="8.1" fill="url(#gC)"/>
<circle cx="748.2" cy="436.0" r="8.1" fill="url(#gC)"/>
<circle cx="473.1" cy="438.7" r="8.1" fill="url(#gC)"/>
<circle cx="432.3" cy="440.3" r="8.1" fill="url(#gC)"/>
<circle cx="537.1" cy="443.1" r="8.1" fill="url(#gC)"/>
<circle cx="495.9" cy="445.8" r="8.1" fill="url(#gC)"/>
<circle cx="601.5" cy="446.2" r="8.1" fill="url(#gC)"/>
<circle cx="665.2" cy="446.7" r="8.1" fill="url(#gC)"/>
<circle cx="730.2" cy="448.9" r="8.1" fill="url(#gC)"/>
<circle cx="560.1" cy="449.4" r="8.1" fill="url(#gC)"/>
<circle cx="623.9" cy="452.5" r="8.1" fill="url(#gC)"/>
<circle cx="688.5" cy="453.4" r="8.1" fill="url(#gC)"/>
<g stroke-linecap="butt">
<path d="M546.2,318.0 L531.0,344.9" stroke="#9c6e0c" stroke-width="5.5"/><path d="M546.2,318.0 L531.0,344.9" stroke="#c9920f" stroke-width="3.5"/><path d="M531.0,344.9 L519.3,365.6" stroke="#7d4a2c" stroke-width="3.7"/><path d="M531.0,344.9 L519.3,365.6" stroke="#a86e49" stroke-width="1.7"/>
<path d="M546.2,318.0 L560.6,336.8" stroke="#9c6e0c" stroke-width="5.5"/><path d="M546.2,318.0 L560.6,336.8" stroke="#c9920f" stroke-width="3.5"/><path d="M560.6,336.8 L570.7,350.0" stroke="#7d4a2c" stroke-width="3.7"/><path d="M560.6,336.8 L570.7,350.0" stroke="#a86e49" stroke-width="1.7"/>
<path d="M579.6,332.2 L580.5,354.6" stroke="#9c6e0c" stroke-width="5.5"/><path d="M579.6,332.2 L580.5,354.6" stroke="#c9920f" stroke-width="3.5"/><path d="M580.5,354.6 L581.0,370.1" stroke="#7d4a2c" stroke-width="3.7"/><path d="M580.5,354.6 L581.0,370.1" stroke="#a86e49" stroke-width="1.7"/>
<path d="M579.6,332.2 L593.0,358.7" stroke="#9c6e0c" stroke-width="5.5"/><path d="M579.6,332.2 L593.0,358.7" stroke="#c9920f" stroke-width="3.5"/><path d="M593.0,358.7 L603.2,379.0" stroke="#7d4a2c" stroke-width="3.7"/><path d="M593.0,358.7 L603.2,379.0" stroke="#a86e49" stroke-width="1.7"/>
<path d="M627.4,317.2 L614.2,339.9" stroke="#9c6e0c" stroke-width="5.5"/><path d="M627.4,317.2 L614.2,339.9" stroke="#c9920f" stroke-width="3.5"/><path d="M614.2,339.9 L604.5,356.6" stroke="#7d4a2c" stroke-width="3.7"/><path d="M614.2,339.9 L604.5,356.6" stroke="#a86e49" stroke-width="1.7"/>
<path d="M627.4,317.2 L634.2,337.6" stroke="#9c6e0c" stroke-width="5.5"/><path d="M627.4,317.2 L634.2,337.6" stroke="#c9920f" stroke-width="3.5"/><path d="M634.2,337.6 L638.8,351.5" stroke="#7d4a2c" stroke-width="3.7"/><path d="M634.2,337.6 L638.8,351.5" stroke="#a86e49" stroke-width="1.7"/>
<path d="M627.4,317.2 L645.8,341.2" stroke="#9c6e0c" stroke-width="5.5"/><path d="M627.4,317.2 L645.8,341.2" stroke="#c9920f" stroke-width="3.5"/><path d="M645.8,341.2 L660.0,359.7" stroke="#7d4a2c" stroke-width="3.7"/><path d="M645.8,341.2 L660.0,359.7" stroke="#a86e49" stroke-width="1.7"/>
</g>
<circle cx="472.2" cy="388.3" r="13.4" fill="url(#gAu)"/>
<g stroke-linecap="round">
<path d="M534.6,284.4 L583.9,263.4" stroke="#9c6e0c" stroke-width="4.9"/><path d="M534.6,284.4 L583.9,263.4" stroke="#c9920f" stroke-width="2.9"/>
<path d="M534.6,284.4 L615.1,278.6" stroke="#9c6e0c" stroke-width="4.9"/><path d="M534.6,284.4 L615.1,278.6" stroke="#c9920f" stroke-width="2.9"/>
<path d="M583.9,263.4 L615.1,278.6" stroke="#9c6e0c" stroke-width="4.9"/><path d="M583.9,263.4 L615.1,278.6" stroke="#c9920f" stroke-width="2.9"/>
<path d="M534.6,284.4 L546.2,318.0" stroke="#9c6e0c" stroke-width="4.9"/><path d="M534.6,284.4 L546.2,318.0" stroke="#c9920f" stroke-width="2.9"/>
<path d="M534.6,284.4 L579.6,332.2" stroke="#9c6e0c" stroke-width="4.9"/><path d="M534.6,284.4 L579.6,332.2" stroke="#c9920f" stroke-width="2.9"/>
<path d="M583.9,263.4 L546.2,318.0" stroke="#9c6e0c" stroke-width="4.9"/><path d="M583.9,263.4 L546.2,318.0" stroke="#c9920f" stroke-width="2.9"/>
<path d="M583.9,263.4 L579.6,332.2" stroke="#9c6e0c" stroke-width="4.9"/><path d="M583.9,263.4 L579.6,332.2" stroke="#c9920f" stroke-width="2.9"/>
<path d="M615.1,278.6 L579.6,332.2" stroke="#9c6e0c" stroke-width="4.9"/><path d="M615.1,278.6 L579.6,332.2" stroke="#c9920f" stroke-width="2.9"/>
<path d="M615.1,278.6 L627.4,317.2" stroke="#9c6e0c" stroke-width="4.9"/><path d="M615.1,278.6 L627.4,317.2" stroke="#c9920f" stroke-width="2.9"/>
<path d="M583.9,263.4 L627.4,317.2" stroke="#9c6e0c" stroke-width="4.9"/><path d="M583.9,263.4 L627.4,317.2" stroke="#c9920f" stroke-width="2.9"/>
<path d="M546.2,318.0 L627.4,317.2" stroke="#9c6e0c" stroke-width="4.9"/><path d="M546.2,318.0 L627.4,317.2" stroke="#c9920f" stroke-width="2.9"/>
<path d="M546.2,318.0 L579.6,332.2" stroke="#9c6e0c" stroke-width="4.9"/><path d="M546.2,318.0 L579.6,332.2" stroke="#c9920f" stroke-width="2.9"/>
<path d="M627.4,317.2 L579.6,332.2" stroke="#9c6e0c" stroke-width="4.9"/><path d="M627.4,317.2 L579.6,332.2" stroke="#c9920f" stroke-width="2.9"/>
</g>
<circle cx="534.6" cy="284.4" r="13.6" fill="url(#gAu)"/>
<circle cx="583.9" cy="263.4" r="13.6" fill="url(#gAu)"/>
<circle cx="615.1" cy="278.6" r="13.6" fill="url(#gAu)"/>
<circle cx="546.2" cy="318.0" r="13.6" fill="url(#gAu)"/>
<circle cx="627.4" cy="317.2" r="13.6" fill="url(#gAu)"/>
<circle cx="579.6" cy="332.2" r="13.6" fill="url(#gAu)"/>
</g>
<path d="M276,98.5 C340,104.5 400,107.5 457,106 C510,104.5 560,102.3 601,98.5 L601,67 L721.4,116.2 L601,165.8 L601,146 C550,145 500,144 457,141.5 C400,137 340,118.5 276,98.5 Z" fill="#fe8077" filter="url(#soft2)"/>
<g transform="translate(290.9,66.4)" fill="#8a3a0c" stroke="#e4f9e4" stroke-width="0.9" filter="url(#soft)"><text x="0" y="0" font-family="'Liberation Sans', sans-serif" font-size="36" font-weight="bold" paint-order="stroke" textLength="410" lengthAdjust="spacingAndGlyphs">via H atom abstraction</text></g>
<path d="M178.7,417.2 C179.9,415.7 182.0,412.2 185.8,408.0 C189.6,403.8 196.6,396.2 201.6,392.0 C206.6,387.8 211.9,385.2 216.0,382.6 C220.1,380.0 222.8,378.4 226.1,376.4 C229.4,374.4 232.0,372.8 236.0,370.8 C240.0,368.8 246.0,365.9 250.0,364.2 C254.0,362.5 255.0,362.3 260.0,360.5 C265.0,358.7 272.9,355.8 280.0,353.5 C287.1,351.2 295.0,349.4 302.5,346.9 C310.0,344.4 317.9,341.4 325.0,338.6 C332.1,335.9 338.1,333.5 345.0,330.4 C351.9,327.3 360.8,323.3 366.3,320.0 C371.8,316.7 374.1,313.7 378.0,310.4 C381.9,307.1 386.0,303.8 390.0,300.1 C394.0,296.4 399.8,290.6 402.2,288.0 C404.6,285.4 404.0,284.8 404.4,284.2 L396.4,268.3 L538,225.6 L431.3,329.1 L422.3,316.0 C420.6,317.9 414.4,324.7 412.2,327.4 C410.0,330.1 412.7,329.0 409.0,332.0 C405.3,335.0 396.5,341.3 390.0,345.6 C383.5,349.9 375.2,354.6 370.0,357.6 C364.8,360.6 364.0,361.5 359.0,363.6 C354.0,365.8 346.5,368.1 340.0,370.5 C333.5,372.9 326.7,375.6 320.0,377.8 C313.3,380.1 305.0,382.4 300.0,384.0 C295.0,385.6 295.0,385.7 290.0,387.6 C285.0,389.5 276.6,392.8 270.0,395.3 C263.4,397.8 257.0,399.6 250.7,402.6 C244.4,405.7 237.9,409.6 232.0,413.6 C226.1,417.7 220.0,423.0 215.5,426.9 C211.0,430.8 208.2,433.6 205.0,437.0 C201.8,440.4 197.8,445.4 196.3,447.1 Z" fill="#ff0000" filter="url(#soft)"/>
<text x="514.6" y="190.2" font-family="'Liberation Sans', sans-serif" font-size="33" font-weight="bold" fill="#ff0a0a" filter="url(#soft)">1</text>
<g stroke="#161816" stroke-width="3.8" stroke-linecap="butt" stroke-linejoin="round" fill="none" filter="url(#soft)">
<path d="M48.9,57.2 L103.8,87.9"/>
<path d="M45.1,87.9 L102.3,56.3"/>
<path d="M135.5,87.8 L163.1,71.3"/>
<path d="M119.6,114.8 L119.6,150.8"/>
<path d="M794.6,90.4 L828.8,71.5 L859.4,88.3"/>
<path d="M832.6,61.2 L864.4,79"/>
<path d="M894.5,91.8 L935.9,75.1 L972.9,96.9"/>
</g>
<g id="syn" font-family="Liberation Sans, sans-serif" font-weight="bold" font-size="60.8" fill="#0a0a0a" stroke="#0a0a0a" stroke-width="3.1" stroke-linejoin="miter" filter="url(#soft2)"><text transform="translate(341.37,529.10) scale(1.0157,1)" vector-effect="non-scaling-stroke">S</text><text transform="translate(382.81,529.10) scale(1.1911,1)" vector-effect="non-scaling-stroke">Y</text><text transform="translate(434.69,529.10) scale(1.1219,1)" vector-effect="non-scaling-stroke">N</text><text transform="translate(488.24,529.10) scale(1.0114,1)" vector-effect="non-scaling-stroke">E</text><text transform="translate(533.54,529.10) scale(1.0831,1)" vector-effect="non-scaling-stroke">R</text><text transform="translate(581.99,529.10) scale(1.0676,1)" vector-effect="non-scaling-stroke">G</text><text transform="translate(631.07,529.10) scale(1.2275,1)" vector-effect="non-scaling-stroke">Y</text></g>
<g id="wm" filter="url(#soft)">
<g fill="#566353" opacity="0.7" transform="translate(-0.5,0.9)">
<path d="M847.2,495.3 C854.8,495.3 861,500.7 861,507.3 C861,513.9 854.8,519.3 847.2,519.3 C845.4,519.3 843.7,519 842.1,518.5 L837.7,522 L838.9,516.9 C835.6,514.7 833.4,511.2 833.4,507.3 C833.4,500.7 839.6,495.3 847.2,495.3 Z"/>
<path d="M860.7,506.9 C867.1,506.9 872.3,511.5 872.3,517.2 C872.3,520.3 870.8,523.1 868.3,525 L869.3,528.4 L865.6,526.5 C864.1,527.1 862.4,527.5 860.7,527.5 C854.3,527.5 849.1,522.9 849.1,517.2 C849.1,511.5 854.3,506.9 860.7,506.9 Z"/>
</g>
<path d="M847.2,495.3 C854.8,495.3 861,500.7 861,507.3 C861,513.9 854.8,519.3 847.2,519.3 C845.4,519.3 843.7,519 842.1,518.5 L837.7,522 L838.9,516.9 C835.6,514.7 833.4,511.2 833.4,507.3 C833.4,500.7 839.6,495.3 847.2,495.3 Z" fill="#f5f9f3"/>
<path d="M860.7,506.9 C867.1,506.9 872.3,511.5 872.3,517.2 C872.3,520.3 870.8,523.1 868.3,525 L869.3,528.4 L865.6,526.5 C864.1,527.1 862.4,527.5 860.7,527.5 C854.3,527.5 849.1,522.9 849.1,517.2 C849.1,511.5 854.3,506.9 860.7,506.9 Z" fill="#f5f9f3" stroke="#8fb98b" stroke-width="1.2"/>
<g fill="#a6dda2"><ellipse cx="841.8" cy="503.3" rx="1.9" ry="1.8"/><ellipse cx="852.9" cy="503.3" rx="1.9" ry="1.8"/><ellipse cx="856.1" cy="512.9" rx="1.6" ry="1.7"/><ellipse cx="864.7" cy="512.9" rx="1.6" ry="1.7"/></g>
<g transform="translate(879.6,522.4)" font-family="'Liberation Sans', 'Noto Sans CJK SC', sans-serif" font-size="24.6"><text x="0.5" y="0" textLength="98.5" lengthAdjust="spacing" fill="#3f4a3d" opacity="0.85" transform="translate(1,1)">团簇科学</text><text x="0.5" y="0" textLength="98.5" lengthAdjust="spacing" fill="#f8fbf6" stroke="#f8fbf6" stroke-width="0.35">团簇科学</text></g>
</g>
</svg>
<p class="lbl hid" style="left:291px;top:36px;font-size:36px;font-weight:bold;">via H atom abstraction</p>
<span class="lbl chem" style="left:17.2px;top:29.3px;">H</span>
<span class="lbl chem" style="left:105.8px;top:29.2px;">H</span>
<span class="lbl chem" style="left:166.1px;top:45.1px;">H</span>
<span class="lbl chem" style="left:105.5px;top:80.6px;">N</span>
<span class="lbl chem" style="left:17.6px;top:80.6px;">R</span>
<span class="lbl chem" style="left:105.8px;top:151.1px;">H</span>
<span class="lbl chem c2" style="left:765.3px;top:81.3px;">R</span>
<span class="lbl chem c2" style="left:862.5px;top:79.9px;font-weight:bold;color:#0c0c0c;-webkit-text-stroke:0;transform:scaleX(0.95);">N</span>
<span class="lbl chem c2" style="left:975.3px;top:87.9px;">R</span>
<span class="lbl hid" style="left:881px;top:501px;font-size:24px;font-family:'Liberation Sans','Noto Sans CJK SC',sans-serif;">团簇科学</span>
<span class="lbl hid" style="left:341px;top:478px;font-size:62px;font-weight:bold;">SYNERGY</span>
<span class="lbl hid" style="left:514.6px;top:161.9px;font-size:33px;font-weight:bold;">1</span>
<span class="lbl rd" style="left:532.7px;top:161.6px;font-size:49px;">O</span>
<span class="lbl rd" style="left:569.5px;top:185.7px;font-size:33.5px;">2</span>
<span class="lbl bk" style="left:116.8px;top:398.7px;font-size:49px;transform:scaleX(0.975);">O</span>
<span class="lbl bk" style="left:154.3px;top:424px;font-size:32.5px;">2</span>
</div>
</body>
</html>
